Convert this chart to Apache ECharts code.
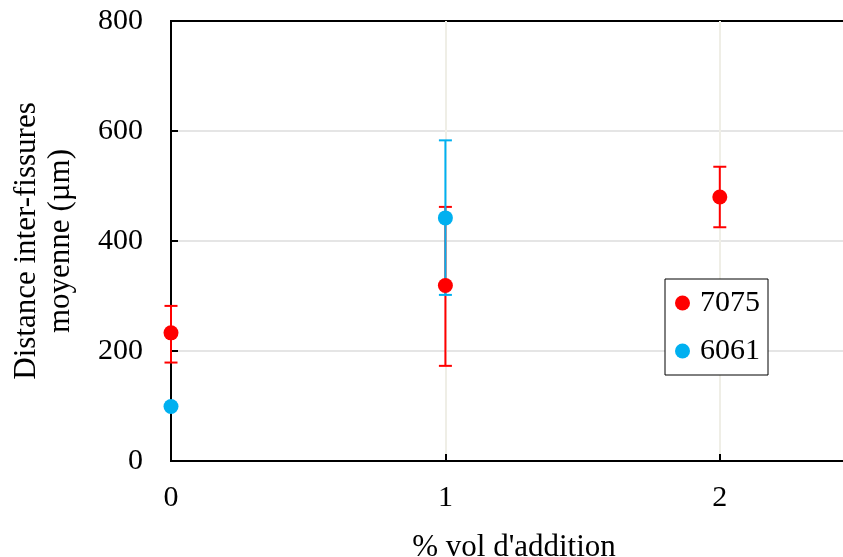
<!DOCTYPE html>
<html>
<head>
<meta charset="utf-8">
<script src="https://cdn.jsdelivr.net/npm/echarts@6/dist/echarts.min.js"></script>
<style>html,body{margin:0;padding:0;background:#fff}#c{width:843px;height:557px}</style>
</head>
<body>
<div id="c"></div>
<script>
var xTicks = [0, 1, 2];
var yTicks = [0, 200, 400, 600, 800];
var x7075 = [0, 1, 2];
var mean7075 = [233, 319, 480];
var low7075 = [179, 173, 425];
var high7075 = [282, 462, 535];
var x6061 = [0, 1];
var mean6061 = [99, 442];
var low6061 = [99, 302];
var high6061 = [99, 583];

var FONT = 'Liberation Serif';
var RED = '#ff0000', BLUE = '#00b0f0';

function pts(xs, ys) { return xs.map(function (x, i) { return [x, ys[i]]; }); }
function errData(xs, lo, hi) { return xs.map(function (x, i) { return [x, lo[i], hi[i]]; }); }

function errRender(color) {
  return function (params, api) {
    var x = api.value(0);
    var lo = api.coord([x, api.value(1)]);
    var hi = api.coord([x, api.value(2)]);
    var w = 6.5;
    var st = { stroke: color, lineWidth: 2 };
    return {
      type: 'group',
      children: [
        { type: 'line', shape: { x1: lo[0], y1: lo[1], x2: hi[0], y2: hi[1] }, style: st },
        { type: 'line', shape: { x1: lo[0] - w, y1: lo[1], x2: lo[0] + w, y2: lo[1] }, style: st },
        { type: 'line', shape: { x1: hi[0] - w, y1: hi[1], x2: hi[0] + w, y2: hi[1] }, style: st }
      ]
    };
  };
}

var chart = echarts.init(document.getElementById('c'));
chart.setOption({
  animation: false,
  grid: { left: 171, top: 21, right: -14, bottom: 96, outerBoundsMode: 'none', containLabel: false,
    show: true, borderColor: '#000', borderWidth: 2, backgroundColor: 'transparent' },
  legend: {
    data: ['7075', '6061'],
    orient: 'vertical',
    left: 665, top: 279,
    padding: [9, 8, 9, 10],
    itemGap: 18,
    itemWidth: 15, itemHeight: 15,
    icon: 'circle',
    borderColor: '#000', borderWidth: 1,
    backgroundColor: '#fff',
    textStyle: { fontFamily: FONT, fontSize: 30, color: '#000', lineHeight: 30, padding: [0, 0, 0, 5] }
  },
  xAxis: {
    type: 'value', min: 0, max: 2.5, interval: 1,
    name: "% vol d'addition", nameLocation: 'middle', nameGap: 71,
    nameTextStyle: { fontFamily: FONT, fontSize: 31, color: '#000' },
    axisLine: { lineStyle: { color: '#000', width: 2 } },
    axisTick: { inside: true, length: 7, lineStyle: { color: '#000', width: 2 } },
    axisLabel: { fontFamily: FONT, fontSize: 30, color: '#000', margin: 22,
      customValues: xTicks, formatter: function (v) { return v; } },
    splitLine: { show: true, showMinLine: false, showMaxLine: false, lineStyle: { color: '#efeee6', width: 2 } }
  },
  yAxis: {
    type: 'value', min: 0, max: 800, interval: 200,
    name: 'Distance inter-fissures\nmoyenne (µm)', nameLocation: 'middle', nameGap: 93,
    nameTextStyle: { fontFamily: FONT, fontSize: 31, color: '#000', lineHeight: 34 },
    axisLine: { lineStyle: { color: '#000', width: 2 } },
    axisTick: { inside: true, length: 7, lineStyle: { color: '#000', width: 2 } },
    axisLabel: { fontFamily: FONT, fontSize: 30, color: '#000', margin: 28,
      customValues: yTicks },
    splitLine: { show: true, showMinLine: false, showMaxLine: false, lineStyle: { color: '#dcdcdc', width: 1.5 } }
  },
  series: [
    { type: 'custom', name: 'err7075', data: errData(x7075, low7075, high7075), renderItem: errRender(RED), z: 3, silent: true },
    { type: 'custom', name: 'err6061', data: errData(x6061, low6061, high6061), renderItem: errRender(BLUE), z: 4, silent: true },
    { type: 'scatter', name: '6061', data: pts(x6061, mean6061), symbolSize: 15, itemStyle: { color: BLUE, opacity: 1 }, z: 5, clip: false },
    { type: 'scatter', name: '7075', data: pts(x7075, mean7075), symbolSize: 15, itemStyle: { color: RED, opacity: 1 }, z: 6, clip: false }
  ]
});
</script>
</body>
</html>
